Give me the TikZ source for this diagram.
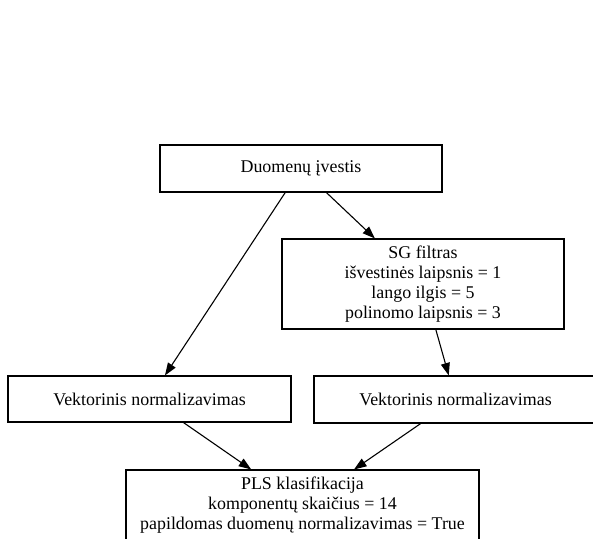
\documentclass[tikz,border=0pt]{standalone}
\usepackage{fontspec}
\setmainfont{Liberation Serif}
\usetikzlibrary{arrows.meta}
\begin{document}
\begin{tikzpicture}[x=1pt, y=-1pt,
  box/.style={draw=black, line width=1.1pt, rectangle, inner sep=0pt,
    align=center, font=\fontsize{17.9}{20}\selectfont},
  flow/.style={draw=black, line width=1.1pt,
    -{Triangle[length=12.5pt, width=9pt]}}]
  \useasboundingbox (0,0) rectangle (593,538);
  \clip (0,0) rectangle (593,538);

  % pipeline stages
  \node[box, minimum width=282pt, minimum height=47pt] (input) at (301,168.5)
    {Duomenų įvestis};
  \node[box, minimum width=282pt, minimum height=90pt] (sg) at (423,284)
    {SG filtras\\išvestinės laipsnis = 1\\lango ilgis = 5\\polinomo laipsnis = 3};
  \node[box, minimum width=283pt, minimum height=46pt] (normA) at (149.5,399)
    {Vektorinis normalizavimas};
  \node[box, minimum width=283pt, minimum height=47pt] (normB) at (455.5,399.5)
    {Vektorinis normalizavimas};
  \node[box, minimum width=353pt, minimum height=70pt] (pls) at (302.5,505)
    {PLS klasifikacija\\komponentų skaičius = 14\\papildomas duomenų normalizavimas = True};

  % connections
  \draw[flow] (input) -- (normA);
  \draw[flow] (input) -- (sg);
  \draw[flow] (sg) -- (normB);
  \draw[flow] (normA) -- (pls);
  \draw[flow] (normB) -- (pls);
\end{tikzpicture}
\end{document}
